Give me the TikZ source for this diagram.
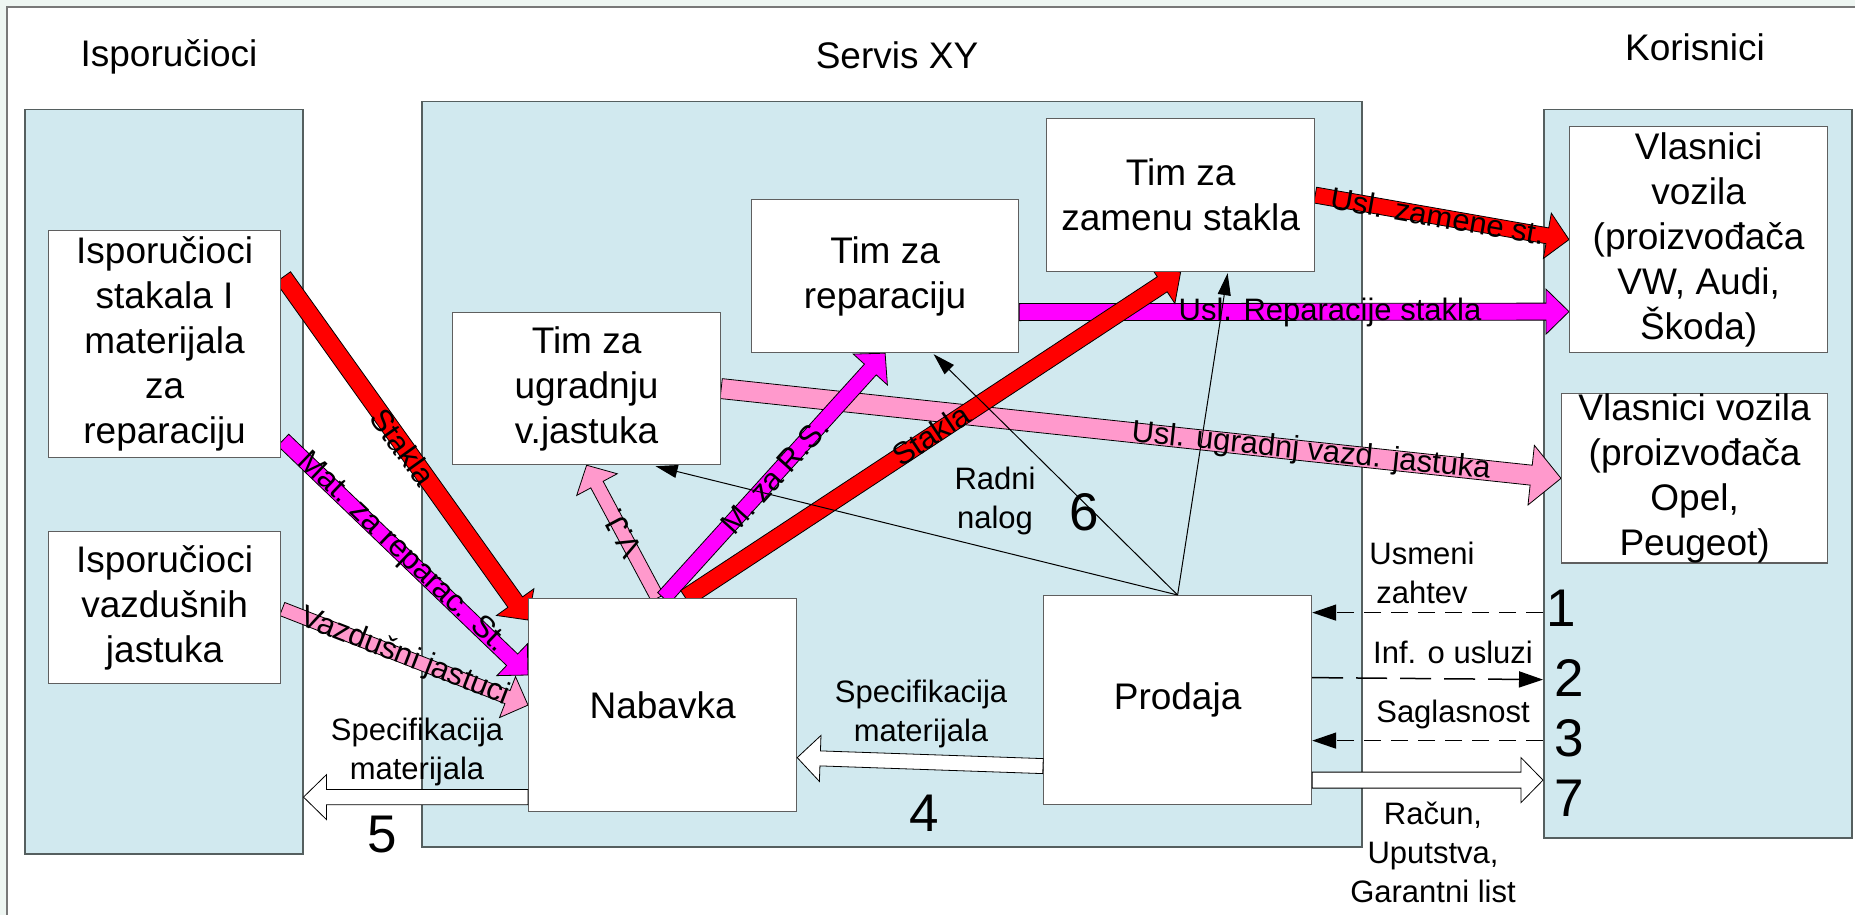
\documentclass[tikz,border=0pt]{standalone}
\usepackage{fontspec}
\setmainfont{Liberation Sans}
\usetikzlibrary{calc,arrows.meta}
\definecolor{panelfill}{RGB}{209,233,239}
\definecolor{panelline}{RGB}{85,95,95}
\definecolor{boxline}{RGB}{95,95,95}
\definecolor{pinkA}{RGB}{255,153,204}
\definecolor{magA}{RGB}{255,0,255}
\definecolor{redA}{RGB}{255,0,0}
\definecolor{framegray}{RGB}{120,120,120}
\definecolor{outside}{RGB}{238,246,242}
\pgfdeclarelayer{panels}
\pgfdeclarelayer{arrows}
\pgfsetlayers{panels,arrows,main}
% style, from, to, half shaft, half head, head length
\newcommand\blockarrow[6]{%
  \coordinate (bA) at (#2);
  \coordinate (bB) at (#3);
  \coordinate (bH) at ($(bB)!#6!(bA)$);
  \draw[#1] ($(bA)!#4!90:(bB)$) -- ($(bH)!#4!90:(bB)$) -- ($(bH)!#5!90:(bB)$) -- (bB)
    -- ($(bH)!#5!-90:(bB)$) -- ($(bH)!#4!-90:(bB)$) -- ($(bA)!#4!-90:(bB)$) -- cycle;
}
\tikzset{
  panel/.style={draw=panelline, line width=1.5pt, fill=panelfill, anchor=north west, inner sep=0pt},
  wbox/.style={draw=boxline, line width=1.2pt, fill=white, anchor=north west, inner sep=0pt,
    align=center, font=\fontsize{37pt}{45pt}\selectfont},
  ttl/.style={font=\fontsize{37pt}{45pt}\selectfont, inner sep=0pt},
  lbl/.style={font=\fontsize{31pt}{39pt}\selectfont, align=center, inner sep=0pt},
  alab/.style={font=\fontsize{31pt}{38pt}\selectfont, inner sep=0pt},
  num/.style={font=\fontsize{53pt}{60pt}\selectfont, inner sep=0pt},
  redarr/.style={fill=redA, draw=black, line width=0.8pt},
  magarr/.style={fill=magA, draw=black, line width=0.8pt},
  pinkarr/.style={fill=pinkA, draw=black, line width=0.8pt},
  whitearr/.style={fill=white, draw=black, line width=0.8pt},
  thinarr/.style={line width=1pt, -{Triangle[length=22pt,width=13pt]}},
  dashshort/.style={line width=1.5pt, dash pattern=on 17pt off 10pt, -{Triangle[length=24pt,width=16pt]}},
  dashlong/.style={line width=1.5pt, dash pattern=on 31pt off 13pt, -{Triangle[length=24pt,width=16pt]}},
}
\begin{document}
\begin{tikzpicture}[x=1pt,y=-1pt]
\useasboundingbox (0,0) rectangle (1855,915);
\begin{pgfonlayer}{panels}
  \fill[outside] (0,0) rectangle (1855,915);
  \fill[white] (7,7) rectangle (1855,915);
  \draw[framegray, line width=1.5pt] (7,916) -- (7,7) -- (1856,7);
  \node[panel, minimum width=278pt, minimum height=744pt] (pL) at (24,109) {};
  \node[panel, minimum width=940pt, minimum height=745pt] (pM) at (421,101) {};
  \node[panel, minimum width=308pt, minimum height=728pt] (pR) at (1543,109) {};
\end{pgfonlayer}

% titles
\node[ttl] (tL) at (169,57) {Isporučioci};
\node[ttl] (tM) at (897,55) {Servis XY};
\node[ttl] (tR) at (1695,47) {Korisnici};

% boxes
\node[wbox, minimum width=232pt, minimum height=227pt] (isp1) at (48,230) {Isporučioci\\stakala I\\materijala\\za\\reparaciju};
\node[wbox, minimum width=232pt, minimum height=152pt] (isp2) at (48,531) {Isporučioci\\vazdušnih\\jastuka};
\node[wbox, minimum width=268pt, minimum height=153pt] (zam) at (1046,118) {Tim za\\zamenu stakla};
\node[wbox, minimum width=267pt, minimum height=153pt] (rep) at (751,199) {Tim za\\reparaciju};
\node[wbox, minimum width=268pt, minimum height=152pt] (ugr) at (452,312) {Tim za\\ugradnju\\v.jastuka};
\node[wbox, minimum width=268pt, minimum height=213pt] (nab) at (528,598) {Nabavka};
\node[wbox, minimum width=268pt, minimum height=209pt] (prod) at (1043,595) {Prodaja};
\node[wbox, minimum width=258pt, minimum height=226pt] (vw) at (1569,126) {Vlasnici\\vozila\\(proizvođača\\VW, Audi,\\Škoda)};
\node[wbox, minimum width=266pt, minimum height=167pt] (opel) at (1561,393) {Vlasnici vozila\\(proizvođača\\Opel,\\Peugeot)};

% thick arrows (under the boxes)
\begin{pgfonlayer}{arrows}
  \blockarrow{pinkarr}{ugr.east}{opel.west}{10pt}{30pt}{30pt}
  \blockarrow{magarr}{$(rep.east)+(0,36)$}{$(vw.west)+(0,72)$}{8.5pt}{22.5pt}{23pt}
  \blockarrow{redarr}{zam.east}{vw.west}{8pt}{23pt}{22pt}
  \blockarrow{redarr}{$(isp1.north east)+(2,47)$}{$(nab.north west)+(0,22)$}{9pt}{23pt}{22pt}
  \blockarrow{magarr}{$(isp1.north east)+(2,210)$}{$(nab.north west)+(0,77)$}{8pt}{22pt}{22pt}
  \blockarrow{pinkarr}{$(isp2.north east)+(1,78)$}{nab.west}{7pt}{22pt}{22pt}
  \blockarrow{pinkarr}{$(nab.north)+(-5,0)$}{ugr.south}{7pt}{23pt}{22pt}
  \blockarrow{magarr}{$(nab.north)+(1,0)$}{rep.south}{8pt}{23pt}{22pt}
  \blockarrow{redarr}{$(nab.north)+(23,0)$}{zam.south}{9pt}{23pt}{22pt}

  \node[alab, rotate=-54.35] (lStakla1) at (403,447) {Stakla};
  \node[alab, rotate=-43.7] (lMat) at (402,553) {Mat. za reparac. St.};
  \node[alab, rotate=-21.2] (lVaz) at (405,657) {Vazdušni jastuci};
  \node[alab, rotate=117.9] (lVJ) at (622,533) {V.J.};
  \node[alab, rotate=48.06] (lMR) at (775,476) {M. za R.S.};
  \node[alab, rotate=33.45] (lStakla2) at (931,435) {Stakla};
  \node[alab, rotate=-9.8] (lZam) at (1438,216) {Usl. zamene st.};
  \node[alab, anchor=base] (lRep) at (1330,320) {Usl. Reparacije stakla};
  \node[alab, rotate=-5.97] (lUgr) at (1311,452) {Usl. ugradnj vazd. jastuka};
\end{pgfonlayer}

% white block arrows
\coordinate (w5s) at ($(nab.west)+(0,92)$);
\blockarrow{whitearr}{w5s}{pL.east |- w5s}{7.7pt}{22.5pt}{23pt}
\blockarrow{whitearr}{$(prod.west)+(0,66)$}{$(nab.east)+(0,52.5)$}{7.5pt}{23pt}{23pt}
\coordinate (w7s) at ($(prod.east)+(0,80)$);
\blockarrow{whitearr}{w7s}{pR.west |- w7s}{8pt}{22.5pt}{22pt}

% dashed arrows
\coordinate (d1s) at ($(prod.east)+(0,-87.5)$);
\draw[dashshort] (pR.west |- d1s) -- (d1s);
\coordinate (d2s) at ($(prod.east)+(0,-22.5)$);
\draw[dashlong] (d2s) -- ($(pR.west |- d2s)+(0,2)$);
\coordinate (d3s) at ($(prod.east)+(0,40.5)$);
\draw[dashshort] (pR.west |- d3s) -- (d3s);

% thin arrows (Radni nalog)
\draw[thinarr] (prod.north) -- ($(ugr.south)+(69,1)$);
\draw[thinarr] (prod.north) -- ($(rep.south)+(48.5,1)$);
\draw[thinarr] (prod.north) -- ($(zam.south)+(47,1)$);

% labels
\node[lbl] (sL) at (417,752) {Specifikacija\\materijala};
\node[num] (n5) at (382,835) {5};
\node[lbl] (sM) at (921,714) {Specifikacija\\materijala};
\node[num] (n4) at (924,813) {4};
\node[lbl] (rn) at (995,501) {Radni\\nalog};
\node[num] (n6) at (1084,512) {6};
\node[lbl] (uz) at (1422,573) {Usmeni\\zahtev};
\node[num] (n1) at (1561,608) {1};
\node[lbl] (inf) at (1453,652) {Inf. o usluzi};
\node[num] (n2) at (1569,678) {2};
\node[lbl] (sag) at (1453,714) {Saglasnost};
\node[num] (n3) at (1569,738) {3};
\node[num] (n7) at (1569,798) {7};
\node[lbl] (rac) at (1433,852) {Račun,\\Uputstva,\\Garantni list};
\end{tikzpicture}
\end{document}
